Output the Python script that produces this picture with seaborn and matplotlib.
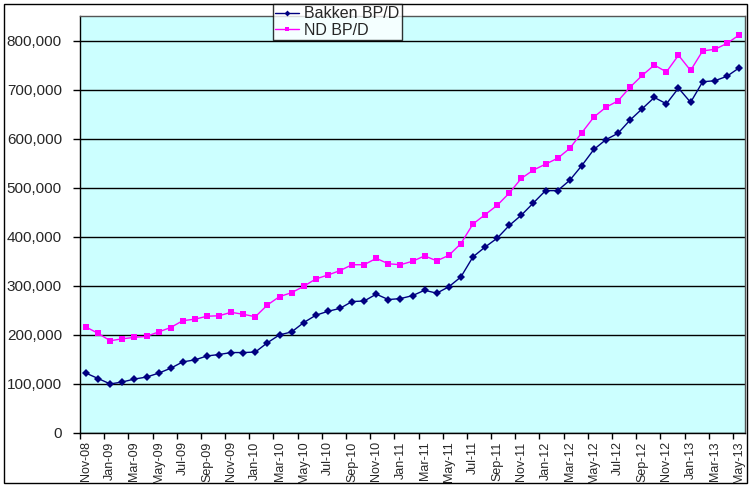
import numpy as np
import pandas as pd
import matplotlib
matplotlib.use("Agg")
import matplotlib.pyplot as plt
import seaborn as sns
from matplotlib.patches import Rectangle
from matplotlib.ticker import FuncFormatter

# Monthly data, Nov-08 .. May-13 (barrels per day)
bakken_bpd = [122000, 111000, 100000, 104000, 110000, 114000, 122000, 132000, 145000, 149000,
              157000, 160000, 164000, 164000, 165000, 184000, 200000, 206000, 225000, 240000,
              248000, 254000, 268000, 269000, 283000, 272000, 274000, 280000, 291000, 285000,
              298000, 318000, 359000, 379000, 397000, 423000, 444000, 469000, 494000, 494000,
              515000, 545000, 578000, 598000, 611000, 638000, 661000, 684000, 671000, 703000,
              674000, 716000, 718000, 727000, 744000]
nd_bpd = [216000, 203000, 188000, 192000, 195000, 197000, 206000, 215000, 229000, 232000,
          238000, 239000, 246000, 242000, 237000, 261000, 278000, 286000, 299000, 314000,
          322000, 331000, 343000, 343000, 356000, 345000, 343000, 350000, 361000, 351000,
          362000, 386000, 426000, 445000, 464000, 489000, 519000, 536000, 548000, 560000,
          580000, 612000, 644000, 664000, 677000, 705000, 729000, 750000, 736000, 770000,
          739000, 779000, 782000, 794000, 811000]
tick_labels = ["Nov-08", "Jan-09", "Mar-09", "May-09", "Jul-09", "Sep-09", "Nov-09",
               "Jan-10", "Mar-10", "May-10", "Jul-10", "Sep-10", "Nov-10", "Jan-11",
               "Mar-11", "May-11", "Jul-11", "Sep-11", "Nov-11", "Jan-12", "Mar-12",
               "May-12", "Jul-12", "Sep-12", "Nov-12", "Jan-13", "Mar-13", "May-13"]
series_names = ["Bakken BP/D", "ND BP/D"]

n = len(bakken_bpd)
df = pd.DataFrame({
    "month": list(range(n)) * 2,
    "bpd": bakken_bpd + nd_bpd,
    "series": [series_names[0]] * n + [series_names[1]] * n,
})

sns.set_style("white")
plt.rcParams["font.family"] = ["Liberation Sans", "DejaVu Sans"]

fig = plt.figure(figsize=(7.5, 4.88), dpi=100)
ax = fig.add_axes([80 / 750, 55 / 488, 665 / 750, 417 / 488])
ax.set_facecolor("#CCFFFF")

sns.lineplot(
    data=df, x="month", y="bpd", hue="series", style="series",
    palette={series_names[0]: "#000080", series_names[1]: "#FF00FF"},
    markers={series_names[0]: "D", series_names[1]: "s"},
    dashes=False, markersize=4, markeredgewidth=0, linewidth=1,
    ax=ax, legend=False,
)

ax.set_xlim(-0.5, n - 0.5)
ax.set_ylim(0, 850000)
ax.set_yticks(np.arange(0, 900000, 100000))
ax.yaxis.set_major_formatter(FuncFormatter(lambda v, p: f"{int(v):,}"))
ax.grid(axis="y", color="black", linewidth=1)
ax.set_axisbelow(True)

# labels centred on every other month, tick marks on category boundaries
ax.set_xticks(np.arange(0, n, 2))
ax.set_xticklabels(tick_labels, rotation=90, fontsize=9)
ax.tick_params(axis="x", which="major", length=0, pad=6)
ax.set_xticks(np.arange(-0.5, n, 2), minor=True)
ax.tick_params(axis="x", which="minor", length=4, color="black", width=1, bottom=True)
ax.tick_params(axis="y", length=5, color="black", width=1, left=True, labelsize=11, pad=8)
ax.set_xlabel("")
ax.set_ylabel("")

for side in ["left", "bottom"]:
    ax.spines[side].set_color("black")
    ax.spines[side].set_linewidth(1)
for side in ["top", "right"]:
    ax.spines[side].set_color("#555555")
    ax.spines[side].set_linewidth(1)

# legend box overlapping the top of the plot area
handles = [
    plt.Line2D([], [], color="#000080", marker="D", markersize=3, markeredgewidth=0, linewidth=1),
    plt.Line2D([], [], color="#FF00FF", marker="s", markersize=3, markeredgewidth=0, linewidth=1),
]
leg = fig.legend(handles, series_names, loc="upper left",
                 bbox_to_anchor=(273 / 750, 1 - 4 / 488), fontsize=11.5,
                 frameon=True, fancybox=False, borderpad=0.15, handlelength=1.5,
                 handletextpad=0.3, labelspacing=0.1, borderaxespad=0)
leg.get_frame().set_edgecolor("black")
leg.get_frame().set_linewidth(1)
leg.get_frame().set_facecolor("white")

# outer chart border
fig.patches.append(Rectangle((4 / 750, 5 / 488), 743 / 750, 479 / 488,
                             transform=fig.transFigure, fill=False,
                             edgecolor="black", linewidth=1))

fig.savefig("out.png", dpi=100)
